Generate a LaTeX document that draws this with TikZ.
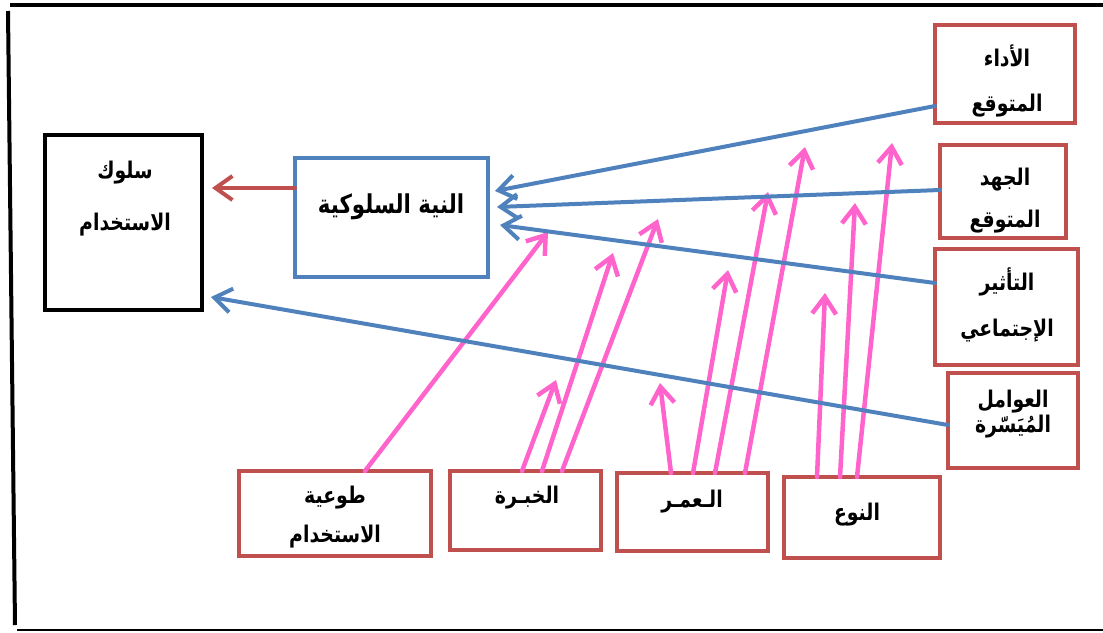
\documentclass[tikz,border=0pt]{standalone}
\usepackage{fontspec}
\newfontfamily\arabicfont[Script=Arabic,FakeStretch=0.82]{DejaVu Sans}
\TeXXeTstate=1
\usetikzlibrary{arrows.meta}
\definecolor{boxred}{HTML}{C0504D}
\definecolor{boxblue}{HTML}{4F81BD}
\definecolor{arrpink}{HTML}{FF63CC}
\tikzset{
  redbox/.style={draw=boxred,line width=4pt,outer sep=0pt,inner sep=0pt},
  bluebox/.style={draw=boxblue,line width=3.5pt,outer sep=0pt,inner sep=0pt},
  blackbox/.style={draw=black,line width=4.5pt,outer sep=0pt,inner sep=0pt},
  lbl/.style={font=\arabicfont\bfseries\fontsize{23}{30}\selectfont,align=center,inner sep=0pt},
  barb/.style={-{Straight Barb[length=17pt,width=24pt]},line cap=round,line join=round},
  bluearr/.style={barb,draw=boxblue,line width=4pt},
  redarr/.style={barb,draw=boxred,line width=4pt},
  pinkarr/.style={barb,draw=arrpink,line width=4.5pt}
}
\begin{document}
\begin{tikzpicture}[x=1pt,y=-1pt]
    \useasboundingbox (0,0) rectangle (1103,632);
    \draw[line width=4.5pt] (10,5) -- (1103,5);
    \draw[line width=4pt] (8,11) -- (15,625);
    \draw[line width=2.5pt] (17,630) -- (1103,630);

    \node[blackbox,minimum width=157pt,minimum height=175pt] (use) at (123.5,222.5) {};
    \node[bluebox,minimum width=193pt,minimum height=119pt] (intent) at (391.5,217.5) {};
    \node[redbox,minimum width=140pt,minimum height=98pt] (perf) at (1005,74) {};
    \node[redbox,minimum width=126pt,minimum height=93pt] (effort) at (1003,191.5) {};
    \node[redbox,minimum width=143pt,minimum height=116pt] (social) at (1006.5,307) {};
    \node[redbox,minimum width=130pt,minimum height=95pt] (facil) at (1013,420.5) {};
    \node[redbox,minimum width=192pt,minimum height=85pt] (volun) at (335,513.5) {};
    \node[redbox,minimum width=151pt,minimum height=79pt] (exper) at (525.5,510.5) {};
    \node[redbox,minimum width=151pt,minimum height=78pt] (age) at (692.5,512) {};
    \node[redbox,minimum width=156pt,minimum height=81pt] (gender) at (862,517.5) {};

    \node[lbl] (luse) at (125,199) {\beginR سلوك\endR\\[22pt]\beginR الاستخدام\endR};
    \node[lbl,font=\arabicfont\bfseries\fontsize{26}{30}\selectfont] (lint) at (391,207) {\beginR النية السلوكية\endR};
    \node[lbl] (lperf) at (1007,80.5) {\beginR الأداء\endR\\[15pt]\beginR المتوقع\endR};
    \node[lbl] (leff) at (1005,201) {\beginR الجهد\endR\\[12pt]\beginR المتوقع\endR};
    \node[lbl] (lsoc) at (1007,305) {\beginR التأثير\endR\\[16pt]\beginR الإجتماعي\endR};
    \node[lbl] (lfac) at (1013,414.5) {\beginR العوامل\endR\\[-5pt]\beginR المُيَسّرة\endR};
    \node[lbl] (lvol) at (335,517.5) {\beginR طوعية\endR\\[9pt]\beginR الاستخدام\endR};
    \node[lbl] (lexp) at (527,498) {\beginR الخبـرة\endR};
    \node[lbl] (lage) at (692,502) {\beginR الـعمـر\endR};
    \node[lbl] (lgen) at (857,515) {\beginR النوع\endR};

    \coordinate (ta) at (548,232);
    \coordinate (tb1) at (556,380);
    \coordinate (tb2) at (613,253);
    \coordinate (tb3) at (658,219);
    \coordinate (tc1) at (660,383);
    \coordinate (tc2) at (728,270);
    \coordinate (tc3) at (768,192);
    \coordinate (tc4) at (805,147);
    \coordinate (td1) at (825,293);
    \coordinate (td2) at (855,203);
    \coordinate (td3) at (892,143);

    \draw[pinkarr] ([xshift=30pt]volun.north) -- (ta);
    \draw[pinkarr] ([xshift=-3.5pt]exper.north) -- (tb1);
    \draw[pinkarr] ([xshift=16.5pt]exper.north) -- (tb2);
    \draw[pinkarr] ([xshift=36.5pt]exper.north) -- (tb3);
    \draw[pinkarr] ([xshift=-21.5pt]age.north) -- (tc1);
    \draw[pinkarr] ([xshift=0.5pt]age.north) -- (tc2);
    \draw[pinkarr] ([xshift=22.5pt]age.north) -- (tc3);
    \draw[pinkarr] ([xshift=52.5pt]age.north) -- (tc4);
    \draw[pinkarr] ([xshift=-45pt]gender.north) -- (td1);
    \draw[pinkarr] ([xshift=-22pt]gender.north) -- (td2);
    \draw[pinkarr] ([xshift=-5pt]gender.north) -- (td3);

    \draw[bluearr] ([yshift=-32pt]perf.west) -- ([xshift=7pt,yshift=26.5pt]intent.east);
    \draw[bluearr] ([yshift=1.5pt]effort.west) -- ([xshift=9pt,yshift=10.5pt]intent.east);
    \draw[bluearr] ([yshift=24pt]social.west) -- ([xshift=12pt,yshift=-7.5pt]intent.east);
    \draw[bluearr] ([yshift=-4.5pt]facil.west) -- ([xshift=9pt,yshift=-74.5pt]use.east);
    \draw[redarr] ([yshift=29.5pt]intent.west) -- ([xshift=10pt,yshift=34.5pt]use.east);
\end{tikzpicture}
\end{document}
